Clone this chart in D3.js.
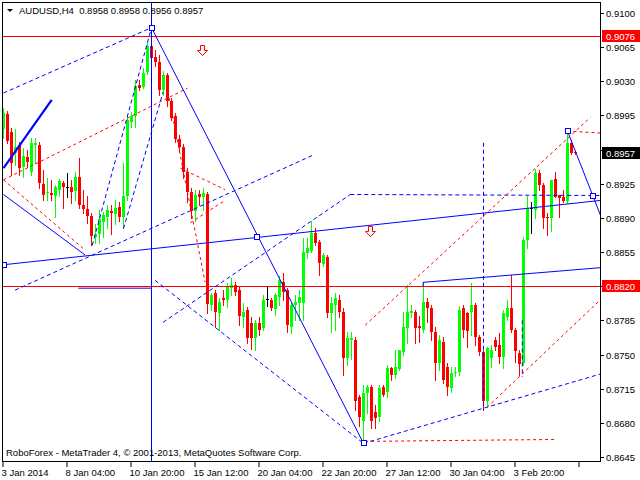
<!DOCTYPE html>
<html><head><meta charset="utf-8">
<script src="https://cdn.jsdelivr.net/npm/d3@7"></script>
<style>
html,body{margin:0;padding:0;background:#fff;overflow:hidden}
svg{display:block}
text{font-family:"Liberation Sans",Arial,sans-serif;font-size:9.5px;white-space:pre}
</style>
</head><body>
<svg id="chart" width="640" height="480"></svg>
<script>
const symbol = "AUDUSD,H4";
const copyright = "RoboForex - MetaTrader 4, \u00A9 2001-2013, MetaQuotes Software Corp.";

const opens = [
.8982,.8996,.8978,.8957,.8965,.8942,.8952,.8937,.8965,.8965,
.8925,.8916,.8916,.8913,.8919,.8926,.8922,.8922,.8918,.8932,
.8903,.8899,.8892,.8871,.8874,.8886,.8891,.8897,.8894,.8901,
.8890,.8912,.8988,.8994,.9026,.9025,.9039,.9066,.9055,.9050,
.9021,.9036,.9010,.8994,.8971,.8963,.8937,.8917,.8898,.8915,
.8912,.8915,.8801,.8813,.8793,.8808,.8806,.8818,.8821,.8816,
.8789,.8796,.8782,.8767,.8782,.8777,.8807,.8806,.8797,.8809,
.8824,.8816,.8778,.8801,.8803,.8803,.8854,.8857,.8875,.8865,
.8843,.8850,.8793,.8801,.8806,.8794,.8747,.8765,.8765,.8706,
.8682,.8711,.8717,.8691,.8686,.8717,.8711,.8736,.8729,.8736,
.8752,.8778,.8793,.8794,.8779,.8775,.8804,.8798,.8773,.8741,
.8763,.8737,.8716,.8731,.8732,.8798,.8793,.8794,.8801,.8768,
.8753,.8703,.8747,.8765,.8760,.8748,.8789,.8798,.8775,.8752,
.8741,.8867,.8900,.8898,.8936,.8924,.8891,.8890,.8930,.8913,
.8911,.8908,.8967,.8958];
const highs = [
.9003,.9000,.8982,.8981,.8968,.8962,.8960,.8972,.8972,.8968,
.8939,.8931,.8929,.8924,.8930,.8928,.8936,.8929,.8937,.8951,
.8919,.8912,.8895,.8884,.8898,.8896,.8903,.8903,.8908,.8906,
.8946,.8994,.8999,.9031,.9031,.9044,.9070,.9087,.9062,.9057,
.9041,.9039,.9013,.8998,.8975,.8966,.8941,.8921,.8919,.8919,
.8921,.8917,.8813,.8816,.8808,.8816,.8823,.8828,.8824,.8819,
.8803,.8799,.8788,.8785,.8788,.8811,.8819,.8808,.8813,.8830,
.8834,.8818,.8803,.8811,.8816,.8869,.8869,.8887,.8880,.8867,
.8854,.8852,.8809,.8813,.8811,.8798,.8773,.8773,.8768,.8709,
.8719,.8719,.8719,.8698,.8719,.8719,.8739,.8737,.8755,.8755,
.8794,.8821,.8801,.8796,.8789,.8824,.8808,.8801,.8778,.8770,
.8768,.8741,.8737,.8737,.8800,.8801,.8794,.8823,.8803,.8770,
.8755,.8758,.8760,.8768,.8772,.8796,.8806,.8832,.8777,.8755,
.8870,.8912,.8906,.8940,.8939,.8926,.8895,.8929,.8937,.8914,
.8919,.8978,.8970,.8958];
const lows = [
.8972,.8967,.8934,.8944,.8934,.8932,.8942,.8934,.8946,.8921,
.8908,.8908,.8908,.8891,.8912,.8900,.8911,.8905,.8908,.8900,
.8895,.8885,.8862,.8864,.8864,.8870,.8880,.8874,.8884,.8887,
.8880,.8908,.8983,.8983,.9021,.9023,.9038,.9048,.9046,.9016,
.9016,.9005,.8990,.8968,.8960,.8931,.8906,.8890,.8887,.8903,
.8898,.8793,.8796,.8778,.8775,.8801,.8799,.8811,.8811,.8780,
.8778,.8762,.8756,.8755,.8770,.8775,.8800,.8796,.8791,.8801,
.8806,.8773,.8772,.8785,.8785,.8785,.8849,.8855,.8862,.8831,
.8841,.8788,.8773,.8775,.8788,.8729,.8739,.8745,.8693,.8677,
.8659,.8690,.8675,.8675,.8682,.8707,.8706,.8724,.8726,.8734,
.8750,.8762,.8788,.8762,.8763,.8773,.8783,.8765,.8724,.8734,
.8721,.8709,.8712,.8728,.8729,.8768,.8758,.8770,.8760,.8750,
.8693,.8698,.8737,.8755,.8741,.8736,.8785,.8773,.8742,.8729,
.8739,.8859,.8875,.8890,.8919,.8880,.8872,.8877,.8911,.8891,
.8906,.8905,.8955,.8956];
const closes = [
.8998,.8968,.8946,.8963,.8941,.8953,.8947,.8967,.8967,.8926,
.8914,.8917,.8914,.8922,.8928,.8922,.8922,.8917,.8932,.8903,
.8899,.8892,.8872,.8874,.8889,.8893,.8898,.8895,.8900,.8891,
.8912,.8990,.8994,.9025,.9023,.9039,.9066,.9054,.9050,.9021,
.9036,.9009,.8993,.8970,.8963,.8937,.8916,.8898,.8914,.8912,
.8916,.8802,.8811,.8794,.8804,.8806,.8819,.8821,.8814,.8789,
.8794,.8767,.8767,.8782,.8775,.8806,.8807,.8798,.8811,.8826,
.8814,.8780,.8801,.8804,.8809,.8855,.8859,.8875,.8865,.8843,
.8852,.8793,.8803,.8808,.8794,.8747,.8767,.8767,.8703,.8685,
.8711,.8717,.8682,.8685,.8716,.8709,.8736,.8729,.8737,.8755,
.8778,.8794,.8795,.8778,.8777,.8804,.8798,.8773,.8741,.8765,
.8724,.8717,.8731,.8732,.8796,.8775,.8775,.8801,.8768,.8753,
.8703,.8757,.8755,.8758,.8748,.8793,.8798,.8775,.8753,.8741,
.8867,.8900,.8900,.8936,.8924,.8890,.8890,.8929,.8912,.8910,
.8907,.8967,.8957,.8957];

const timeTickBars = [0,16,32,48,64,80,96,112,128,144];
const timeTickLabels = ["3 Jan 2014","8 Jan 04:00","10 Jan 20:00","15 Jan 12:00","20 Jan 04:00","22 Jan 20:00","27 Jan 12:00","30 Jan 04:00","3 Feb 20:00",""];
const priceTicks = [0.9100,0.9065,0.9030,0.8995,0.8960,0.8925,0.8890,0.8855,0.8820,0.8785,0.8750,0.8715,0.8680,0.8645];

const levelLines = [0.9076, 0.8820];
const verticalLineBars = [37];
// segments: [bar1, price1, bar2, price2]
const blueThickSegments = [[0,0.8941,12.05,0.9011]];
const blueSolidSegments = [
  [37,0.9085,90,0.8659],
  [0,0.8914,20.4,0.8852],
  [18.7,0.8818,37,0.8818],
  [104.9,0.8820,104.9,0.8824],
  [104.9,0.8824,149.2,0.8839]
];
const blueSolidRays = [
  [0,0.8842,63.4,0.8870],
  [141,0.8979,147.4,0.8912]
];
const blueDashedSegments = [
  [0,0.9018,37,0.9085],
  [22.2,0.8862,37,0.9085],
  [30,0.8879,39.9,0.9019],
  [2.9,0.8816,77.2,0.8954],
  [39.9,0.8783,86.7,0.8914],
  [86.7,0.8914,149.2,0.8913],
  [37.9,0.8826,90,0.8659],
  [90,0.8659,149.2,0.8730],
  [120,0.8967,120,0.8693],
  [129.7,0.8785,129.7,0.8727]
];
const redDashedSegments = [
  [0,0.8929,46,0.9023],
  [0,0.8929,20.4,0.8857],
  [41.1,0.9019,50.4,0.8824],
  [44.2,0.8941,55.4,0.8919],
  [46.7,0.8885,55.4,0.8908],
  [90.4,0.8661,138.4,0.8663],
  [90.4,0.8780,146.7,0.8993],
  [120.9,0.8696,149.2,0.8806],
  [141,0.8979,149.2,0.8977]
];
const anchorPoints = [[37,0.9085],[63.4,0.8870],[90,0.8659],[141,0.8979],[147.4,0.8912],[0,0.8842]];
const sellArrows = [[49.7,0.9062],[91.6,0.8877]];

const svg = d3.select("#chart");
const x = d3.scaleLinear().domain([-0.875, 149.125]).range([0, 600]);
const y = d3.scaleLinear().domain([0.8645, 0.9100]).range([457, 13]);
const plot = {l:3, r:600, t:3, b:461};

svg.append("rect").attr("width",640).attr("height",480).attr("fill","#fff");
svg.append("defs").append("clipPath").attr("id","clip")
  .append("rect").attr("x",plot.l).attr("y",plot.t).attr("width",plot.r-plot.l).attr("height",plot.b-plot.t);

const bars = opens.map((o,i)=>({i,o,h:highs[i],l:lows[i],c:closes[i]}));
const colorOf = d => d.c > d.o ? "#00ff00" : (d.c < d.o ? "#ff0000" : "#000000");

const g = svg.append("g").attr("clip-path","url(#clip)");
const cg = g.append("g").attr("shape-rendering","crispEdges");
cg.selectAll("line.wick").data(bars).join("line")
  .attr("x1",d=>x(d.i)).attr("x2",d=>x(d.i))
  .attr("y1",d=>Math.round(y(d.h))).attr("y2",d=>Math.round(y(d.l))+1)
  .attr("stroke",colorOf).attr("stroke-width",1);
cg.selectAll("rect.body").data(bars).join("rect")
  .attr("x",d=>x(d.i)-1.5).attr("width",3)
  .attr("y",d=>Math.round(Math.min(y(d.o),y(d.c))))
  .attr("height",d=>Math.max(1,Math.round(Math.abs(y(d.o)-y(d.c)))))
  .attr("fill",colorOf);

const og = g.append("g");
og.selectAll("line.level").data(levelLines).join("line")
  .attr("x1",plot.l).attr("x2",plot.r).attr("y1",d=>Math.round(y(d))+0.5).attr("y2",d=>Math.round(y(d))+0.5)
  .attr("stroke","#ff0000").attr("stroke-width",1);
og.selectAll("line.vline").data(verticalLineBars).join("line")
  .attr("x1",d=>x(d)).attr("x2",d=>x(d)).attr("y1",plot.t).attr("y2",plot.b)
  .attr("stroke","#0000ff").attr("stroke-width",1);

function drawSegs(data, color, width, dash){
  og.append("g").selectAll("line").data(data).join("line")
    .attr("x1",d=>x(d[0])).attr("y1",d=>y(d[1])).attr("x2",d=>x(d[2])).attr("y2",d=>y(d[3]))
    .attr("stroke",color).attr("stroke-width",width).attr("stroke-dasharray",dash||null)
    .attr("fill","none");
}
drawSegs(blueThickSegments,"#0000ff",2.2);
drawSegs(blueSolidSegments,"#0000ff",1);
drawSegs(blueDashedSegments,"#0000ff",1,"4,3");
drawSegs(redDashedSegments,"#ff0000",1,"3,3");
// rays: extend through the second point to the right edge of the plot
og.append("g").selectAll("line").data(blueSolidRays).join("line")
  .attr("x1",d=>x(d[0])).attr("y1",d=>y(d[1]))
  .attr("x2",plot.r+5)
  .attr("y2",d=>{const sl=(y(d[3])-y(d[1]))/(x(d[2])-x(d[0]));return y(d[1])+sl*(plot.r+5-x(d[0]));})
  .attr("stroke","#0000ff").attr("stroke-width",1);

og.selectAll("rect.anchor").data(anchorPoints).join("rect")
  .attr("x",d=>Math.round(x(d[0]))-2.5).attr("y",d=>Math.round(y(d[1]))-2.5)
  .attr("width",5).attr("height",5).attr("fill","#fff").attr("stroke","#0000ff").attr("stroke-width",1);

og.selectAll("path.arrow").data(sellArrows).join("path")
  .attr("transform",d=>`translate(${Math.round(x(d[0]))+0.5},${Math.round(y(d[1]))+0.5})`)
  .attr("d","M-2,-5 L2,-5 L2,0 L5,0 L0,5 L-5,0 L-2,0 Z")
  .attr("fill","#fff").attr("stroke","#ff0000").attr("stroke-width",1);

// frame
svg.append("rect").attr("x",2.5).attr("y",2.5).attr("width",598).attr("height",459)
  .attr("fill","none").attr("stroke","#000").attr("stroke-width",1).attr("shape-rendering","crispEdges");

// highlighted price labels (level lines and last close)
const lastClose = closes[closes.length-1];
const priceBoxes = [[levelLines[0],"#ff0000"],[lastClose,"#000000"],[levelLines[1],"#ff0000"]];

// price axis: ticks everywhere, labels only where no highlighted box covers them
const pa = svg.append("g");
pa.selectAll("line").data(priceTicks).join("line")
  .attr("x1",601).attr("x2",604).attr("y1",d=>Math.round(y(d))+0.5).attr("y2",d=>Math.round(y(d))+0.5)
  .attr("stroke","#000");
const freeTicks = priceTicks.filter(p => priceBoxes.every(b => Math.abs(y(p)-y(b[0])) >= 10));
pa.selectAll("text").data(freeTicks).join("text")
  .attr("x",606).attr("y",d=>Math.round(y(d))+3.5).attr("fill","#000").text(d=>d.toFixed(4));

const pb = svg.append("g").selectAll("g").data(priceBoxes).join("g");
pb.append("rect").attr("x",602).attr("y",d=>Math.round(y(d[0]))-6).attr("width",38).attr("height",12).attr("fill",d=>d[1]);
pb.append("text").attr("x",606).attr("y",d=>Math.round(y(d[0]))+3.5).attr("fill","#fff").text(d=>d[0].toFixed(4));

// time axis
const ta = svg.append("g");
ta.selectAll("line").data(timeTickBars).join("line")
  .attr("x1",d=>x(d)-0.5).attr("x2",d=>x(d)-0.5).attr("y1",462).attr("y2",467).attr("stroke","#000");
ta.selectAll("text").data(timeTickBars.map((b,k)=>[b,timeTickLabels[k]])).join("text")
  .attr("x",d=>x(d[0])-2).attr("y",476).attr("fill","#000").text(d=>d[1]);

// title
svg.append("path").attr("d","M7,9 L13,9 L10,12 Z").attr("fill","#000");
const last = bars[bars.length-1];
svg.append("text").attr("x",19).attr("y",14).attr("fill","#000")
  .text(`${symbol}  ${last.o.toFixed(4)} ${last.h.toFixed(4)} ${last.l.toFixed(4)} ${last.c.toFixed(4)}`);
svg.append("text").attr("x",6).attr("y",456).attr("fill","#000").text(copyright);
</script>
</body></html>
